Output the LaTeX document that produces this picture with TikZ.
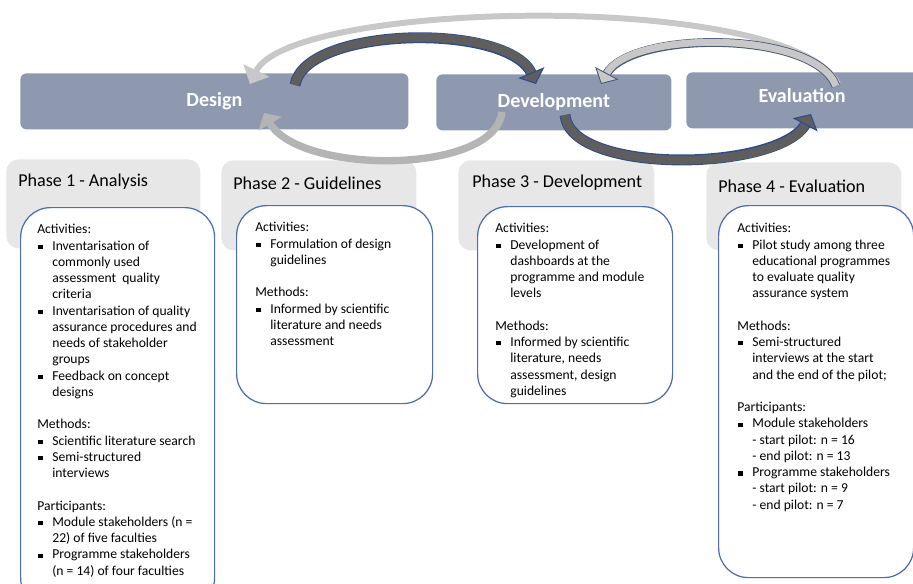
\documentclass[tikz,border=0pt]{standalone}
\usepackage{fontspec}
\setmainfont{Carlito}
\usetikzlibrary{arrows.meta, calc}

\definecolor{stagefill}{HTML}{8E99B0}
\definecolor{headgray}{HTML}{E7E7E7}
\definecolor{boxblue}{HTML}{4A6DB5}
\definecolor{arrowdark}{HTML}{5E5E5E}
\definecolor{arrowblue}{HTML}{2F4B8C}
\definecolor{arrowmid}{HTML}{B4B4B4}
\definecolor{arrowpale}{HTML}{C8C8C8}
\definecolor{arrowedge}{HTML}{4B5875}

\newdimen\pxu
\pxu=0.02cm

\newcommand{\bul}{\makebox[15\pxu][l]{\hspace*{1\pxu}\rule[0.6pt]{2.4pt}{2.4pt}}}
\newcommand{\cont}{\hspace*{15\pxu}}

\tikzset{
  stage/.style={fill=stagefill, rounded corners=3.5pt, anchor=north west, text=white,
    font=\fontsize{11.4}{13.7}\selectfont\bfseries},
  phasehead/.style={fill=headgray, rounded corners=7pt, anchor=north west},
  phasetitle/.style={anchor=west, inner sep=0pt, text=black,
    font=\fontsize{10.3}{12.4}\selectfont},
  detailbox/.style={draw=boxblue, line width=0.7pt, fill=white, rounded corners=17pt,
    anchor=north west},
  detailtext/.style={anchor=north west, align=left, inner sep=0pt, text=black,
    font=\fontsize{7.75}{9.25}\selectfont},
  darkloop/.style={arrowdark, line width=5pt,
    -{Triangle[length=7pt, width=16pt, fill=arrowdark, color=arrowblue, line width=0.6pt]}},
  darkedge/.style={arrowblue, line width=6.2pt, shorten >=6pt},
  paleloop/.style={arrowmid, line width=4.2pt, -{Triangle[length=7pt, width=15pt]}},
  edgeloop/.style={arrowpale, line width=4pt,
    -{Triangle[length=7pt, width=15pt, fill=arrowpale, color=arrowedge, line width=0.5pt]}},
  edgeline/.style={arrowedge, line width=5pt, shorten >=6pt},
  bigloop/.style={arrowpale, line width=3.4pt, -{Triangle[length=8.5pt, width=16pt]}},
}

\begin{document}
\begin{tikzpicture}[x=0.02cm, y=-0.02cm]
\useasboundingbox (0,0) rectangle (913,583);
\clip (0,0) rectangle (913,583);

% stage bars
\node[stage, minimum width=388\pxu, minimum height=56\pxu] (design) at (20,73) {Design};
\node[stage, minimum width=235\pxu, minimum height=56\pxu] (develop) at (436,74) {Development};
\node[stage, minimum width=240\pxu, minimum height=56\pxu] (evaluate) at (686,72) {};
\node[text=white, font=\fontsize{11.4}{13.7}\selectfont\bfseries] (evallabel) at (802,96) {Evaluation};

% phase headers
\node[phasehead, minimum width=194\pxu, minimum height=89\pxu] (head1) at (6,159) {};
\node[phasehead, minimum width=195\pxu, minimum height=90\pxu] (head2) at (221,160) {};
\node[phasehead, minimum width=196\pxu, minimum height=90\pxu] (head3) at (458,160) {};
\node[phasehead, minimum width=195\pxu, minimum height=88\pxu] (head4) at (706,162) {};
\node[phasetitle] (title1) at (18,182) {Phase 1 - Analysis};
\node[phasetitle] (title2) at (233,183) {Phase 2 - Guidelines};
\node[phasetitle] (title3) at (472,183) {Phase 3 - Development};
\node[phasetitle] (title4) at (718,186) {Phase 4 - Evaluation};

% detail boxes
\node[detailbox, minimum width=194\pxu, minimum height=400\pxu] (box1) at (20,207) {};
\node[detailbox, minimum width=196\pxu, minimum height=198\pxu] (box2) at (236,205) {};
\node[detailbox, minimum width=195\pxu, minimum height=197\pxu] (box3) at (477,206) {};
\node[detailbox, minimum width=195\pxu, minimum height=372\pxu] (box4) at (718,205) {};

\node[detailtext] (text1) at (37,224) {Activities:\\
\bul Inventarisation of\\
\cont commonly used\\
\cont assessment\ \ quality\\
\cont criteria\\
\bul Inventarisation of quality\\
\cont assurance procedures and\\
\cont needs of stakeholder\\
\cont groups\\
\bul Feedback on concept\\
\cont designs\\[9.25pt]
Methods:\\
\bul Scientific literature search\\
\bul Semi-structured\\
\cont interviews\\[9.25pt]
Participants:\\
\bul Module stakeholders (n =\\
\cont 22) of five faculties\\
\bul Programme stakeholders\\
\cont (n = 14) of four faculties};

\node[detailtext] (text2) at (255,222) {Activities:\\
\bul Formulation of design\\
\cont guidelines\\[9.25pt]
Methods:\\
\bul Informed by scientific\\
\cont literature and needs\\
\cont assessment};

\node[detailtext] (text3) at (495,223) {Activities:\\
\bul Development of\\
\cont dashboards at the\\
\cont programme and module\\
\cont levels\\[9.25pt]
Methods:\\
\bul Informed by scientific\\
\cont literature, needs\\
\cont assessment, design\\
\cont guidelines};

\node[detailtext] (text4) at (737,223) {Activities:\\
\bul Pilot study among three\\
\cont educational programmes\\
\cont to evaluate quality\\
\cont assurance system\\[9.25pt]
Methods:\\
\bul Semi-structured\\
\cont interviews at the start\\
\cont and the end of the pilot;\\[9.25pt]
Participants:\\
\bul Module stakeholders\\
\cont - start pilot: n = 16\\
\cont - end pilot: n = 13\\
\bul Programme stakeholders\\
\cont - start pilot: n = 9\\
\cont - end pilot: n = 7};

% arrow ends
\coordinate (dsgtop) at ($(design.north west)+(275,12)$);
\coordinate (dsgin) at ($(design.north west)+(230,11)$);
\coordinate (dsgbot) at ($(design.north west)+(244,40)$);
\coordinate (devin) at ($(develop.north west)+(100,10)$);
\coordinate (devback) at ($(develop.north west)+(165,10)$);
\coordinate (devout) at ($(develop.north west)+(66,38)$);
\coordinate (devnext) at ($(develop.north west)+(129,41)$);
\coordinate (evalin) at ($(evaluate.north west)+(125,42)$);
\coordinate (evalout) at ($(evaluate.north west)+(150,14)$);
\coordinate (evalback) at ($(evaluate.north west)+(152,12)$);

% big loop back to design
\draw[bigloop] (evalback) .. controls +(-48,-94) and +(40,-84) .. (dsgin);
% design -> development
\draw[darkedge] (dsgtop) .. controls +(10,-59) and +(-26,-62) .. (devin);
\draw[darkloop] (dsgtop) .. controls +(10,-59) and +(-26,-62) .. (devin);
% development -> design
\draw[paleloop] (devout) .. controls +(-7,63) and +(36,62) .. (dsgbot);
% development -> evaluation
\draw[darkedge] (devnext) .. controls +(5,60) and +(-31,58) .. (evalin);
\draw[darkloop] (devnext) .. controls +(5,60) and +(-31,58) .. (evalin);
% evaluation -> development
\draw[edgeline] (evalout) .. controls +(-21,-56) and +(29,-54) .. (devback);
\draw[edgeloop] (evalout) .. controls +(-21,-56) and +(29,-54) .. (devback);
\end{tikzpicture}
\end{document}
